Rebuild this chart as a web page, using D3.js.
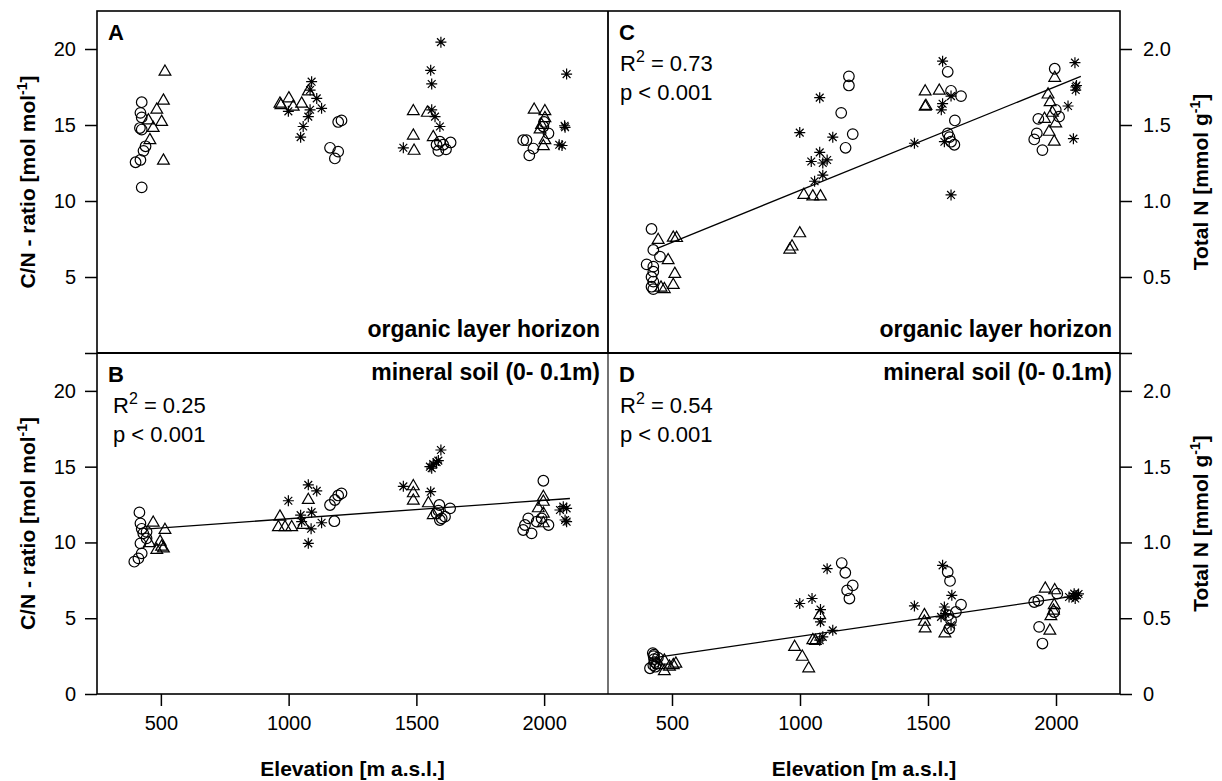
<!DOCTYPE html>
<html><head><meta charset="utf-8">
<title>C/N ratio and total N vs elevation</title>
<script src="https://d3js.org/d3.v7.min.js"></script>
<style>
  body { margin: 0; background: #fff; }
  text { font-family: "Liberation Sans", Arial, Helvetica, sans-serif; fill: #000; }
  .tick line { stroke: #000; stroke-width: 1.5px; }
  .tick text { font-size: 20px; }
  .domain { display: none; }
</style>
</head>
<body>
<svg id="chart" width="1222" height="781"></svg>
<script>
  // ---- data: [elevation, value]

  // A: C/N ratio, organic layer
  const cnOrgCircles = [[425,16.5],[420,15.8],[425,15.5],[418,14.8],[425,14.7],[440,13.6],[432,13.3],[420,12.7],[401,12.55],[425,10.9],
    [1194,15.2],[1207,15.3],[1162,13.5],[1194,13.25],[1181,12.8],
    [1592,13.9],[1634,13.85],[1586,13.3],[1616,13.4],[1579,13.7],[1605,13.7],
    [1918,14.0],[1931,14.0],[1958,13.45],[1942,13.0],[1997,14.9],[2017,14.45],[2000,15.2]];
  const cnOrgTriangles = [[516,18.5],[510,16.6],[484,16.0],[451,15.3],[503,15.2],[470,14.8],[457,14.0],[510,12.65],
    [966,16.4],[1001,16.75],[1018,16.2],[1051,16.4],[1077,17.2],[970,16.3],
    [1488,15.9],[1543,15.8],[1488,14.3],[1491,13.3],[1566,14.2],
    [1961,16.0],[2003,15.9],[2003,15.45],[1990,15.0],[1984,14.7],[2003,14.0],[1997,13.6]];
  const cnOrgStars = [[1090,17.85],[1084,17.3],[1110,16.75],[1129,16.1],[1084,16.0],[1077,15.55],[999,15.9],[1057,14.9],[1047,14.2],
    [1596,20.45],[1556,18.6],[1560,17.7],[1560,16.0],[1573,15.55],[1592,14.9],[1449,13.5],
    [2088,18.35],[2082,14.85],[2080,14.95],[2059,13.7],[2070,13.65]];

  // B: C/N ratio, mineral soil
  const cnMinCircles = [[416,11.98],[420,11.26],[425,10.9],[431,10.6],[444,10.7],[444,10.27],[420,9.94],[425,9.28],[412,8.95],[396,8.73],
    [1207,13.24],[1194,13.1],[1181,12.8],[1162,12.47],[1179,11.4],
    [1590,12.47],[1632,12.25],[1579,11.92],[1599,11.59],[1612,11.7],[1592,11.48],[1586,12.1],
    [1997,14.07],[1938,11.59],[1925,11.15],[1918,10.82],[1951,10.6],[1990,11.59],[2017,11.15],[1971,11.37]];
  const cnMinTriangles = [[470,11.3],[516,10.82],[497,10.05],[503,9.72],[484,9.5],[510,9.6],[455,9.95],
    [966,11.7],[960,11.0],[986,11.0],[1012,11.0],[1077,12.8],[1057,11.15],
    [1488,13.7],[1488,13.24],[1488,12.75],[1547,12.58],[1566,11.8],
    [1997,13.0],[1997,12.68],[1977,12.25],[1997,11.9],[1997,11.26]];
  const cnMinStars = [[999,12.75],[1077,13.8],[1110,13.4],[1090,12.0],[1047,11.8],[1051,11.37],[1129,11.3],[1088,10.9],[1077,9.94],
    [1596,16.1],[1586,15.4],[1566,15.17],[1553,15.0],[1560,14.9],[1579,15.3],[1449,13.7],[1556,13.35],
    [2075,12.36],[2062,12.14],[2088,12.25],[2082,11.48],[2088,11.37]];
  const cnMinFit = [[438,10.88],[2101,12.9]];

  // C: total N, organic layer
  const nOrgCircles = [[420,0.816],[427,0.678],[453,0.634],[401,0.583],[427,0.568],[427,0.535],[420,0.50],[427,0.47],[420,0.436],[427,0.42],
    [1191,1.82],[1191,1.76],[1161,1.58],[1206,1.44],[1178,1.35],
    [1577,1.85],[1590,1.725],[1629,1.69],[1605,1.53],[1577,1.445],[1590,1.39],[1603,1.37],[1584,1.42],
    [1995,1.87],[1931,1.54],[1999,1.60],[2012,1.555],[1925,1.445],[1915,1.405],[1947,1.335]];
  const nOrgTriangles = [[446,0.743],[505,0.758],[518,0.756],[485,0.61],[511,0.52],[505,0.447],[470,0.42],[457,0.43],
    [1015,1.04],[1050,1.03],[1080,1.03],[999,0.787],[969,0.70],[960,0.68],
    [1489,1.72],[1544,1.725],[1489,1.62],[1492,1.625],
    [1995,1.81],[1969,1.70],[1977,1.65],[1986,1.58],[1999,1.51],[1973,1.455],[1993,1.39],[1955,1.54]];
  const nOrgStars = [[1077,1.68],[999,1.45],[1128,1.42],[1077,1.32],[1044,1.26],[1089,1.25],[1106,1.27],[1089,1.17],[1057,1.13],
    [1557,1.92],[1447,1.38],[1590,1.69],[1557,1.64],[1552,1.60],[1564,1.39],[1590,1.04],
    [2074,1.91],[2077,1.75],[2077,1.73],[2080,1.76],[2047,1.625],[2068,1.41]];
  const nOrgFit = [[440,0.687],[2097,1.82]];

  // D: total N, mineral soil
  const nMinCircles = [[414,0.17],[425,0.27],[428,0.25],[430,0.23],[432,0.21],[427,0.19],[440,0.20],[435,0.18],[445,0.24],[430,0.26],
    [1163,0.864],[1177,0.80],[1206,0.717],[1184,0.684],[1193,0.63],
    [1577,0.805],[1586,0.746],[1629,0.59],[1609,0.541],[1590,0.487],[1583,0.432],[1579,0.52],
    [1915,0.607],[1931,0.617],[2005,0.662],[1993,0.541],[1934,0.443],[1947,0.333]];
  const nMinTriangles = [[450,0.19],[470,0.15],[490,0.18],[505,0.19],[515,0.20],[470,0.22],
    [979,0.31],[1009,0.245],[1034,0.169],[1077,0.52],[1050,0.355],[1060,0.35],
    [1486,0.52],[1486,0.476],[1489,0.432],[1566,0.40],
    [1958,0.695],[1995,0.684],[1993,0.586],[1990,0.55],[1980,0.513],[1976,0.417]];
  const nMinStars = [[1106,0.827],[999,0.597],[1047,0.63],[1080,0.557],[1080,0.476],[1128,0.42],[1089,0.377],[1077,0.355],
    [1557,0.849],[1447,0.581],[1593,0.651],[1564,0.574],[1551,0.509],[1568,0.53],[1590,0.454],
    [2071,0.662],[2075,0.63],[2051,0.64],[2082,0.65],[2088,0.66],[2068,0.645]];
  const nMinFit = [[440,0.242],[2090,0.651]];

  const elevTicks = [500, 1000, 1500, 2000];
  const cnTicks = [0, 5, 10, 15, 20];
  const nTicks = [0, 0.5, 1, 1.5, 2];

  // ---- layout
  const svg = d3.select("#chart");
  const xL = 97, xM = 608, xR = 1120;
  const yT = 11, yS = 353, yB = 694;

  const xLeft = d3.scaleLinear().domain([250, 2250]).range([xL, xM]);
  const xRight = d3.scaleLinear().domain([250, 2250]).range([xM, xR]);
  const cnTop = d3.scaleLinear().domain([0, 22.5]).range([yS, yT]);
  const cnBot = d3.scaleLinear().domain([0, 22.5]).range([yB, yS]);
  const nTop = d3.scaleLinear().domain([0, 2.25]).range([yS, yT]);
  const nBot = d3.scaleLinear().domain([0, 2.25]).range([yB, yS]);

  // R's pch 8 : "+" and "x" on top of each other
  const asterisk = {
    draw(ctx, size) {
      const r = Math.sqrt(size) / 2;
      for (let i = 0; i < 4; i++) {
        const a = i * Math.PI / 4;
        ctx.moveTo(-r * Math.cos(a), -r * Math.sin(a));
        ctx.lineTo(r * Math.cos(a), r * Math.sin(a));
      }
    }
  };
  const shapes = [
    {key: "circles", sym: d3.symbol().type(d3.symbolCircle).size(88)},
    {key: "triangles", sym: d3.symbol().type(d3.symbolTriangle).size(60)},
    {key: "stars", sym: d3.symbol().type(asterisk).size(121)}
  ];

  const panels = [
    {id: "A", x: xLeft, y: cnTop, circles: cnOrgCircles, triangles: cnOrgTriangles, stars: cnOrgStars,
     fit: null, stats: null, note: "organic layer horizon", noteY: 337, x0: xL, x1: xM, y0: yT, statsDx: 16},
    {id: "B", x: xLeft, y: cnBot, circles: cnMinCircles, triangles: cnMinTriangles, stars: cnMinStars,
     fit: cnMinFit, stats: "0.25", note: "mineral soil (0- 0.1m)", noteY: 380, x0: xL, x1: xM, y0: yS, statsDx: 16},
    {id: "C", x: xRight, y: nTop, circles: nOrgCircles, triangles: nOrgTriangles, stars: nOrgStars,
     fit: nOrgFit, stats: "0.73", note: "organic layer horizon", noteY: 337, x0: xM, x1: xR, y0: yT, statsDx: 12},
    {id: "D", x: xRight, y: nBot, circles: nMinCircles, triangles: nMinTriangles, stars: nMinStars,
     fit: nMinFit, stats: "0.54", note: "mineral soil (0- 0.1m)", noteY: 380, x0: xM, x1: xR, y0: yS, statsDx: 12}
  ];

  panels.forEach(p => {
    const g = svg.append("g");

    if (p.fit) {
      g.append("path")
        .attr("d", d3.line().x(d => p.x(d[0])).y(d => p.y(d[1]))(p.fit))
        .attr("fill", "none").attr("stroke", "#000").attr("stroke-width", 1.3);
    }

    shapes.forEach(s => {
      g.selectAll("path." + s.key).data(p[s.key]).join("path")
        .attr("class", s.key)
        .attr("d", s.sym)
        .attr("transform", d => "translate(" + p.x(d[0]) + "," + p.y(d[1]) + ")")
        .attr("fill", "none").attr("stroke", "#000").attr("stroke-width", 1.2);
    });

    g.append("text").attr("x", p.x0 + 11).attr("y", p.y0 + 29)
      .style("font-size", "22px").style("font-weight", "bold").text(p.id);

    if (p.stats) {
      const r2 = g.append("text").attr("x", p.x0 + p.statsDx).attr("y", p.y0 + 60).style("font-size", "22px");
      r2.append("tspan").text("R");
      r2.append("tspan").attr("dy", -9).style("font-size", "16px").text("2");
      r2.append("tspan").attr("dy", 9).text(" = " + p.stats);
      g.append("text").attr("x", p.x0 + p.statsDx).attr("y", p.y0 + 89)
        .style("font-size", "22px").text("p < 0.001");
    }

    g.append("text").attr("x", p.x1 - 8).attr("y", p.noteY).attr("text-anchor", "end")
      .style("font-size", "23px").style("font-weight", "bold").text(p.note);
  });

  // ---- axes
  svg.append("g").attr("transform", "translate(" + xL + ",0)")
    .call(d3.axisLeft(cnTop).tickValues(cnTicks).tickSize(12).tickPadding(9).tickFormat(d => d === 0 ? "" : d));
  svg.append("g").attr("transform", "translate(" + xL + ",0)")
    .call(d3.axisLeft(cnBot).tickValues(cnTicks).tickSize(12).tickPadding(9));
  svg.append("g").attr("transform", "translate(" + xR + ",0)")
    .call(d3.axisRight(nTop).tickValues(nTicks).tickSize(12).tickPadding(11)
      .tickFormat(d => d === 0 ? "" : d3.format(".1f")(d)));
  svg.append("g").attr("transform", "translate(" + xR + ",0)")
    .call(d3.axisRight(nBot).tickValues(nTicks).tickSize(12).tickPadding(11)
      .tickFormat(d => d === 0 ? "0" : d3.format(".1f")(d)));
  svg.append("g").attr("transform", "translate(0," + yB + ")")
    .call(d3.axisBottom(xLeft).tickValues(elevTicks).tickSize(12).tickPadding(10).tickFormat(d3.format("d")));
  svg.append("g").attr("transform", "translate(0," + yB + ")")
    .call(d3.axisBottom(xRight).tickValues(elevTicks).tickSize(12).tickPadding(10).tickFormat(d3.format("d")));

  // ---- frames
  svg.append("rect").attr("x", xL).attr("y", yT).attr("width", xR - xL).attr("height", yB - yT)
    .attr("fill", "none").attr("stroke", "#000").attr("stroke-width", 1.6);
  svg.append("line").attr("x1", xL).attr("x2", xR).attr("y1", yS).attr("y2", yS)
    .attr("stroke", "#000").attr("stroke-width", 1.8);
  svg.append("line").attr("x1", xM).attr("x2", xM).attr("y1", yT).attr("y2", yS)
    .attr("stroke", "#000").attr("stroke-width", 1.8);
  svg.append("line").attr("x1", xM).attr("x2", xM).attr("y1", yS).attr("y2", yB)
    .attr("stroke", "#000").attr("stroke-width", 1.1);

  // ---- axis titles
  [(xL + xM) / 2, (xM + xR) / 2].forEach(cx => {
    svg.append("text").attr("x", cx).attr("y", 776).attr("text-anchor", "middle")
      .style("font-size", "21px").style("font-weight", "bold").text("Elevation [m a.s.l.]");
  });

  function yTitle(cx, cy, main, unit) {
    const t = svg.append("text")
      .attr("transform", "translate(" + cx + "," + cy + ") rotate(-90)")
      .attr("text-anchor", "middle").style("font-size", "21px").style("font-weight", "bold");
    t.append("tspan").text(main + unit);
    t.append("tspan").attr("dy", -8).style("font-size", "14px").text("-1");
    t.append("tspan").attr("dy", 8).text("]");
  }
  yTitle(35, (yT + yS) / 2, "C/N - ratio ", "[mol mol");
  yTitle(35, (yS + yB) / 2, "C/N - ratio ", "[mol mol");
  yTitle(1208, (yT + yS) / 2, "Total N ", "[mmol g");
  yTitle(1208, (yS + yB) / 2, "Total N ", "[mmol g");
</script>
</body></html>
